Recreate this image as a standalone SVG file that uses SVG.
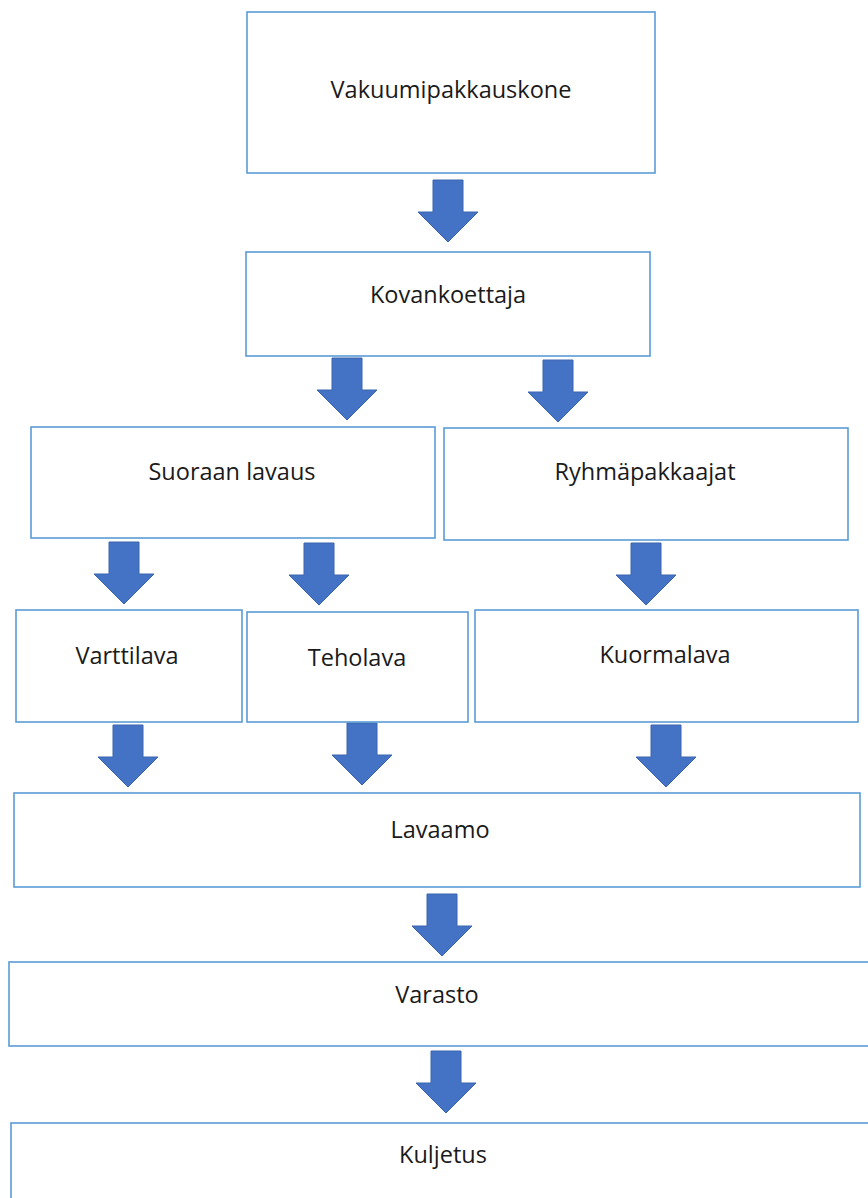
<svg xmlns="http://www.w3.org/2000/svg" width="868" height="1198" viewBox="0 0 868 1198">
<style>
.box{fill:#fff;stroke:#5B9BD5;stroke-width:1.6}
.lbl{font-family:"Open Sans","Noto Sans",sans-serif;font-size:23.5px;fill:#1a1a1a;text-anchor:middle}
.arr{fill:#4472C4;stroke:#3A64AE;stroke-width:1}
</style>
<defs>
<path id="a" d="M-15,0 H15 V32 H30 L0,62 L-30,32 H-15 Z"/>
</defs>
<rect width="868" height="1198" fill="#fff"/>
<g id="connectors">
<use href="#a" class="arr" transform="translate(448,180)"/>
<use href="#a" class="arr" transform="translate(347,358)"/>
<use href="#a" class="arr" transform="translate(558,360)"/>
<use href="#a" class="arr" transform="translate(124,542)"/>
<use href="#a" class="arr" transform="translate(319,543)"/>
<use href="#a" class="arr" transform="translate(646,543)"/>
<use href="#a" class="arr" transform="translate(128,725)"/>
<use href="#a" class="arr" transform="translate(362,723)"/>
<use href="#a" class="arr" transform="translate(666,725)"/>
<use href="#a" class="arr" transform="translate(442,894)"/>
<use href="#a" class="arr" transform="translate(446,1051)"/>
</g>
<g id="n1"><rect class="box" x="247" y="12" width="408" height="161"/><text class="lbl" x="451" y="98">Vakuumipakkauskone</text></g>
<g id="n2"><rect class="box" x="246" y="252" width="404" height="104"/><text class="lbl" x="448" y="303">Kovankoettaja</text></g>
<g id="n3"><rect class="box" x="31" y="427" width="404" height="111"/><text class="lbl" x="232" y="480">Suoraan lavaus</text></g>
<g id="n4"><rect class="box" x="444" y="428" width="404" height="112"/><text class="lbl" x="645" y="480">Ryhmäpakkaajat</text></g>
<g id="n5"><rect class="box" x="16" y="610" width="226" height="112"/><text class="lbl" x="127" y="664">Varttilava</text></g>
<g id="n6"><rect class="box" x="247" y="612" width="221" height="110"/><text class="lbl" x="357" y="666">Teholava</text></g>
<g id="n7"><rect class="box" x="475" y="610" width="383" height="112"/><text class="lbl" x="665" y="663">Kuormalava</text></g>
<g id="n8"><rect class="box" x="14" y="793" width="846" height="94"/><text class="lbl" x="440" y="838">Lavaamo</text></g>
<g id="n9"><rect class="box" x="9" y="962" width="870" height="84"/><text class="lbl" x="437" y="1003">Varasto</text></g>
<g id="n10"><rect class="box" x="11" y="1123" width="870" height="100"/><text class="lbl" x="443" y="1163">Kuljetus</text></g>
</svg>
